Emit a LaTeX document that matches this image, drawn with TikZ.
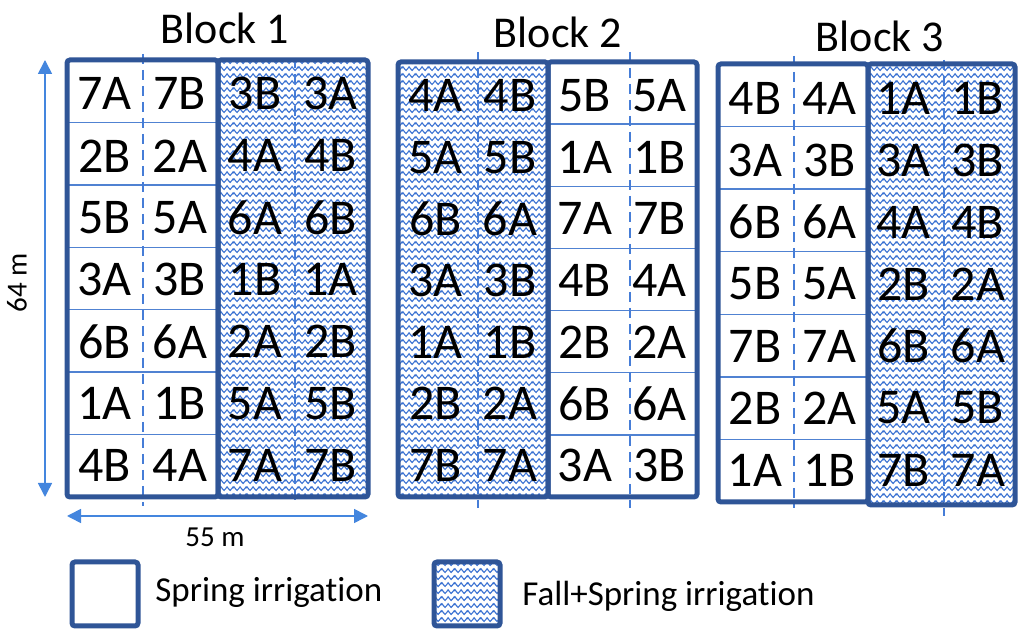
\documentclass[tikz,border=0pt]{standalone}
\usepackage{fontspec}
\setmainfont{Carlito}[Ligatures={NoCommon}]
\usetikzlibrary{patterns,arrows.meta}
\definecolor{bdr}{RGB}{47,85,151}
\definecolor{thinc}{RGB}{80,130,210}
\definecolor{dashc}{RGB}{70,125,215}
\definecolor{arrc}{RGB}{68,134,222}
\definecolor{wavec}{RGB}{60,115,210}
\pgfdeclarepatternformonly{waves}{\pgfpointorigin}{\pgfpoint{6.5pt}{3.65pt}}{\pgfpoint{6.5pt}{3.65pt}}{%
  \pgfsetlinewidth{0.6pt}%
  \pgfpathmoveto{\pgfpoint{-1.625pt}{0.85pt}}%
  \pgfpathcurveto{\pgfpoint{-0.9pt}{0.85pt}}{\pgfpoint{-0.5pt}{2.85pt}}{\pgfpoint{0pt}{2.85pt}}%
  \pgfpathcurveto{\pgfpoint{0.5pt}{2.85pt}}{\pgfpoint{0.9pt}{0.85pt}}{\pgfpoint{1.625pt}{0.85pt}}%
  \pgfpathcurveto{\pgfpoint{2.35pt}{0.85pt}}{\pgfpoint{2.75pt}{2.85pt}}{\pgfpoint{3.25pt}{2.85pt}}%
  \pgfpathcurveto{\pgfpoint{3.75pt}{2.85pt}}{\pgfpoint{4.15pt}{0.85pt}}{\pgfpoint{4.875pt}{0.85pt}}%
  \pgfpathcurveto{\pgfpoint{5.6pt}{0.85pt}}{\pgfpoint{6.0pt}{2.85pt}}{\pgfpoint{6.5pt}{2.85pt}}%
  \pgfpathcurveto{\pgfpoint{7.0pt}{2.85pt}}{\pgfpoint{7.4pt}{0.85pt}}{\pgfpoint{8.125pt}{0.85pt}}%
  \pgfusepath{stroke}%
}
\tikzset{
  wavefill/.style={pattern=waves, pattern color=wavec},
  thickbox/.style={draw=bdr, line width=2.5pt, rounded corners=1.5pt},
  rowline/.style={draw=thinc, line width=0.75pt},
  dashline/.style={draw=dashc, line width=1.2pt, dash pattern=on 5pt off 3pt},
  lbl/.style={font=\fontsize{25}{28}\selectfont, inner sep=0pt},
  ttl/.style={font=\fontsize{22}{26}\selectfont, inner sep=0pt},
  legtxt/.style={font=\fontsize{17.5}{20}\selectfont, inner sep=0pt, anchor=west},
  dimtxt/.style={font=\fontsize{14.5}{17}\selectfont, inner sep=0pt},
  dimarrow/.style={draw=arrc, line width=0.8pt, {Triangle[length=7pt,width=7pt]}-{Triangle[length=7pt,width=7pt]}}
}
\newcommand\plotlabels[6]{%
  \foreach \r [count=\i] in {#6} {
    \foreach \t [count=\j] in \r {
      \node[lbl] (b#1-\i-\j) at ({#2+(\j-0.5)*(#4-#2)/4},{#3+3+(\i-0.5)*(#5-#3-4)/7}) {\t};
    }
  }%
}
\newcommand\rowlines[4]{%
  \foreach \k in {1,...,6} {
    \draw[rowline] (#1,{#3+\k*(#4-#3)/7}) -- (#2,{#3+\k*(#4-#3)/7});
  }%
}
\begin{document}
\begin{tikzpicture}[x=0.5pt,y=-0.5pt]
\useasboundingbox (0,0) rectangle (1024,630);
% ---------- Block 1 ----------
\fill[white] (67,60) rectangle (218,497);
\fill[wavefill] (218,60) rectangle (368,497);
\rowlines{67}{218}{60}{497}
\draw[dashline] (143,54) -- (143,506);
\draw[dashline] (295,58) -- (295,503);
\draw[thickbox] (67,60) rectangle (218,497);
\draw[thickbox] (218,60) rectangle (368,497);
% ---------- Block 2 ----------
\fill[wavefill] (398,62) rectangle (548,497);
\fill[white] (548,62) rectangle (697,497);
\rowlines{548}{697}{62}{497}
\draw[dashline] (478,52) -- (478,508);
\draw[dashline] (630,52) -- (630,508);
\draw[thickbox] (548,62) rectangle (697,497);
\draw[thickbox] (398,62) rectangle (548,497);
% ---------- Block 3 ----------
\fill[white] (718,64) rectangle (868,502);
\fill[wavefill] (868,64) rectangle (1015,505);
\rowlines{718}{868}{64}{502}
\draw[dashline] (794,56) -- (794,508);
\draw[dashline] (944,60) -- (944,516);
\draw[thickbox] (718,64) rectangle (868,502);
\draw[thickbox] (868,64) rectangle (1015,505);
% ---------- labels ----------
\plotlabels{1}{67}{60}{368}{497}{{7A,7B,3B,3A},{2B,2A,4A,4B},{5B,5A,6A,6B},{3A,3B,1B,1A},{6B,6A,2A,2B},{1A,1B,5A,5B},{4B,4A,7A,7B}}
\plotlabels{2}{398}{62}{697}{497}{{4A,4B,5B,5A},{5A,5B,1A,1B},{6B,6A,7A,7B},{3A,3B,4B,4A},{1A,1B,2B,2A},{2B,2A,6B,6A},{7B,7A,3A,3B}}
\plotlabels{3}{718}{64}{1015}{502}{{4B,4A,1A,1B},{3A,3B,3A,3B},{6B,6A,4A,4B},{5B,5A,2B,2A},{7B,7A,6B,6A},{2B,2A,5A,5B},{1A,1B,7B,7A}}
% ---------- titles ----------
\node[ttl] (t1) at (225,28) {Block 1};
\node[ttl] (t2) at (558,32) {Block 2};
\node[ttl] (t3) at (880,36) {Block 3};
% ---------- dimensions ----------
\coordinate (vtop) at (45,60);
\coordinate (vbot) at (45,497);
\coordinate (hl) at (67,516);
\coordinate (hr) at (368,516);
\draw[dimarrow] (vtop) -- (vbot);
\draw[dimarrow] (hl) -- (hr);
\node[dimtxt, rotate=90] (d64) at (17,283) {64 m};
\node[dimtxt] (d55) at (215,537) {55 m};
% ---------- legend ----------
\fill[white] (72,562) rectangle (138,626);
\draw[thickbox] (72,562) rectangle (138,626);
\node[legtxt] (l1) at (155,592) {Spring irrigation};
\fill[wavefill] (434,562) rectangle (500,626);
\draw[thickbox] (434,562) rectangle (500,626);
\node[legtxt] (l2) at (522,596) {Fall+Spring irrigation};
\end{tikzpicture}
\end{document}
